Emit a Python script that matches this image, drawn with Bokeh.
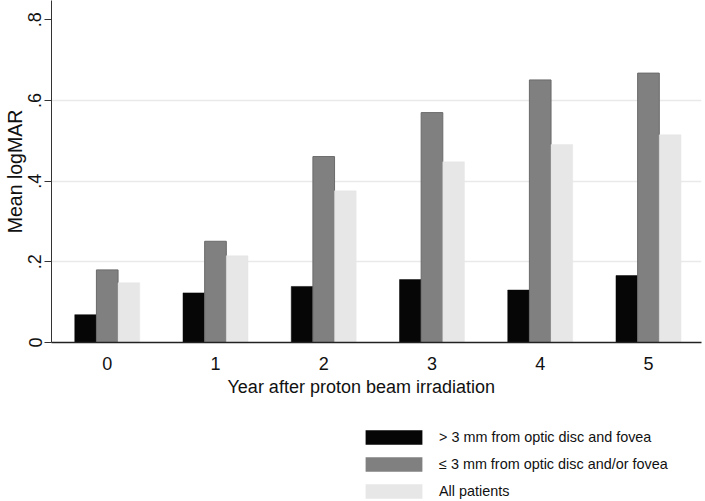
from bokeh.plotting import figure
from bokeh.models import (ColumnDataSource, FixedTicker, Range1d, Legend, LegendItem, Title)
from bokeh.layouts import column
from bokeh.transform import dodge
from bokeh.embed import file_html
from bokeh.resources import INLINE

# ---- data ----
years = [0, 1, 2, 3, 4, 5]
year_labels = ["0", "1", "2", "3", "4", "5"]
far_group = [0.069, 0.123, 0.139, 0.156, 0.130, 0.166]      # > 3 mm from optic disc and fovea
near_group = [0.180, 0.251, 0.461, 0.570, 0.651, 0.668]     # <= 3 mm from optic disc and/or fovea
all_patients = [0.148, 0.215, 0.376, 0.448, 0.491, 0.515]
series_names = ["> 3 mm from optic disc and fovea",
                "\u2264 3 mm from optic disc and/or fovea",
                "All patients"]
y_ticks = [0, 0.2, 0.4, 0.6, 0.8]
y_tick_labels = ["0", ".2", ".4", ".6", ".8"]
x_title = "Year after proton beam irradiation"
y_title = "Mean logMAR"

FONT = "Liberation Sans"
COLORS = ["#060606", "#808080", "#e7e7e7"]
OUTLINES = ["#060606", "#6a6a6a", "#e7e7e7"]

src = ColumnDataSource(dict(year=years, far=far_group, near=near_group, all=all_patients))

p = figure(width=705, height=420, output_backend="svg", toolbar_location=None,
           x_range=Range1d(-0.515, 5.49), y_range=Range1d(0, 0.848),
           min_border_left=51, min_border_right=4, min_border_top=0, min_border_bottom=78)
p.outline_line_color = None
p.background_fill_color = "white"
p.border_fill_color = "white"

w = 0.2
r1 = p.vbar(x=dodge("year", -w, range=p.x_range), top="far", width=w, source=src,
            fill_color=COLORS[0], line_color=OUTLINES[0], line_width=0.5)
r2 = p.vbar(x=dodge("year", 0.0, range=p.x_range), top="near", width=w, source=src,
            fill_color=COLORS[1], line_color=OUTLINES[1], line_width=1)
r3 = p.vbar(x=dodge("year", w, range=p.x_range), top="all", width=w, source=src,
            fill_color=COLORS[2], line_color=OUTLINES[2], line_width=0.5)

# x axis
p.xaxis.ticker = FixedTicker(ticks=years)
p.xaxis.major_label_overrides = {y: l for y, l in zip(years, year_labels)}
p.xaxis.major_tick_out = 0
p.xaxis.major_tick_in = 0
p.xaxis.minor_tick_line_color = None
p.xaxis.axis_line_color = "#222222"
p.xaxis.axis_line_width = 1.5
p.xaxis.major_label_text_font = FONT
p.xaxis.major_label_text_font_size = "18px"
p.xaxis.major_label_text_color = "#111111"
p.xaxis.major_label_standoff = 14

p.add_layout(Title(text=x_title, align="left", offset=176, text_font=FONT,
                   text_font_size="18px", text_font_style="normal",
                   text_color="#111111", standoff=4), "below")

# y axis
p.yaxis.ticker = FixedTicker(ticks=y_ticks)
p.yaxis.major_label_overrides = {t: l for t, l in zip(y_ticks, y_tick_labels)}
p.yaxis.major_label_orientation = "vertical"
p.yaxis.major_tick_out = 7
p.yaxis.major_tick_in = 0
p.yaxis.minor_tick_line_color = None
p.yaxis.axis_line_color = "#333333"
p.yaxis.major_tick_line_color = "#333333"
p.yaxis.major_label_text_font = FONT
p.yaxis.major_label_text_font_size = "18px"
p.yaxis.major_label_text_color = "#111111"
p.yaxis.major_label_standoff = 3
p.yaxis.axis_label = y_title
p.yaxis.axis_label_text_font = FONT
p.yaxis.axis_label_text_font_size = "19.5px"
p.yaxis.axis_label_text_font_style = "normal"
p.yaxis.axis_label_text_color = "#111111"
p.yaxis.axis_label_standoff = 0

# grid
p.xgrid.grid_line_color = None
p.ygrid.ticker = FixedTicker(ticks=[0.2, 0.4, 0.6])
p.ygrid.grid_line_color = "#e9e9e9"
p.ygrid.grid_line_width = 1.5

# ---- legend panel (separate strip under the chart) ----
lg = figure(width=705, height=81, output_backend="svg", toolbar_location=None,
            x_range=Range1d(0, 1), y_range=Range1d(0, 1),
            x_axis_type=None, y_axis_type=None,
            min_border_left=51, min_border_right=4, min_border_top=0, min_border_bottom=0)
lg.outline_line_color = None
lg.grid.visible = False
lg.background_fill_alpha = 0
lg.border_fill_alpha = 0
# zero-size swatch renderers: they only give the legend its glyph styles
swatch = ColumnDataSource(dict(x=[0.5], top=[0.0]))
lr = [lg.vbar(x="x", top="top", width=0, source=swatch,
              fill_color=c, line_color=c, line_alpha=0) for c in COLORS]

legend = Legend(items=[LegendItem(label=n, renderers=[r]) for n, r in zip(series_names, lr)],
                location=(307, 1), orientation="vertical",
                padding=0, margin=0, spacing=9,
                glyph_width=71, glyph_height=18, label_height=18, label_standoff=10,
                label_text_font=FONT, label_text_font_size="14.4px", label_text_color="#111111",
                border_line_alpha=0, background_fill_alpha=0)
lg.add_layout(legend, "center")

layout = column(p, lg, spacing=0)
open("out.html", "w").write(file_html(layout, INLINE))
